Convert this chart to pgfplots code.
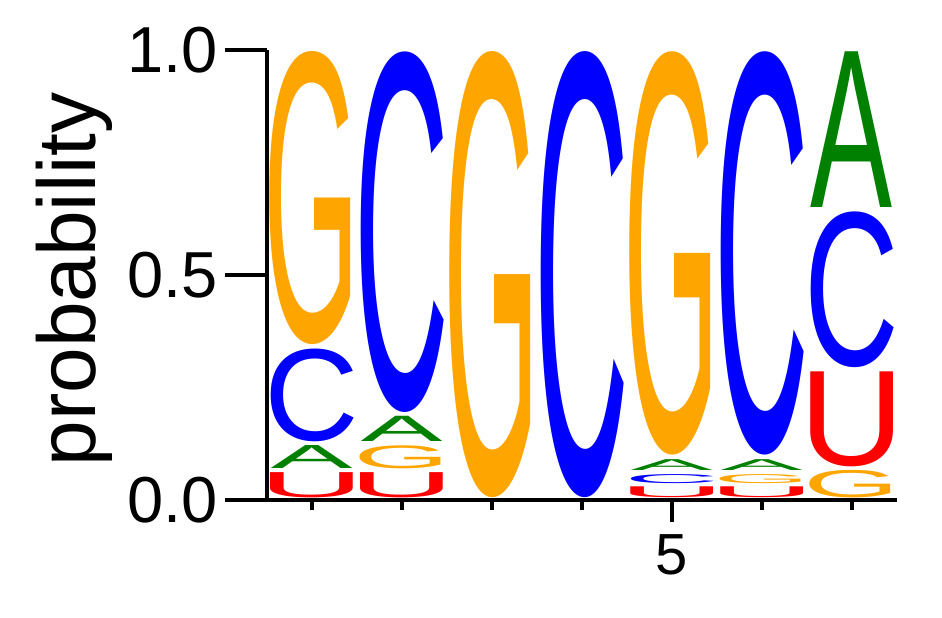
\documentclass[border=0pt]{standalone}
\usepackage{fontspec}
\setmainfont{Liberation Sans}
\usepackage{graphicx}
\usepackage{pgfplots}
\usepackage{pgfplotstable}
\pgfplotsset{compat=1.18}

\definecolor{lgreen}{RGB}{0,128,0}
\definecolor{lblue}{RGB}{0,0,255}
\definecolor{lorange}{RGB}{255,165,0}
\definecolor{lred}{RGB}{255,0,0}

\newlength\lhdim
\newcommand\logofont{\fontsize{40}{40}\selectfont}

% x = position, base = bottom of the letter's slot, h = probability
\pgfplotstableread{
x base h
1 0.065 0.060
2 0.125 0.065
5 0.062 0.033
6 0.062 0.033
7 0.645 0.355
}\dataA
\pgfplotstableread{
x base h
1 0.125 0.215
2 0.190 0.810
4 0.000 1.000
5 0.033 0.029
6 0.095 0.905
7 0.290 0.355
}\dataC
\pgfplotstableread{
x base h
1 0.340 0.660
2 0.065 0.060
3 0.000 1.000
5 0.095 0.905
6 0.033 0.029
7 0.000 0.070
}\dataG
\pgfplotstableread{
x base h
1 0.000 0.065
2 0.000 0.065
5 0.000 0.033
6 0.000 0.033
7 0.070 0.220
}\dataU

\pgfplotsset{
  logo/.style n args={3}{
    draw=none, mark=none,
    visualization depends on={\thisrow{h}\as\lh},
    nodes near coords={\pgfmathsetlength{\lhdim}{\lh*225pt-2pt}\color{#1}\resizebox*{#2}{\lhdim}{\logofont #3}},
    every node near coord/.append style={anchor=south, inner sep=0pt, outer sep=0pt, yshift=1pt},
  },
}

\begin{document}
\begin{tikzpicture}
\begin{axis}[
  scale only axis,
  width=315pt, height=225pt,
  xmin=0.5, xmax=7.5, ymin=0, ymax=1,
  clip=false,
  axis lines=left,
  axis line style={-, line width=2pt},
  tick align=outside,
  tick style={black, line width=2pt},
  major tick length=11pt, minor tick length=10.5pt,
  xtick={5}, xticklabels={5},
  extra x ticks={1,2,3,4,6,7}, extra x tick labels={},
  extra x tick style={major tick length=5pt},
  ytick=\empty,
  minor ytick={0.1,0.2,0.3,0.4,0.6,0.7,0.8,0.9},
  extra y ticks={0,0.5,1}, extra y tick labels={0.0,0.5,1.0},
  extra y tick style={major tick length=21pt},
  tick label style={font=\fontsize{32.5}{32.5}\selectfont},
  xticklabel style={font=\fontsize{29}{29}\selectfont, yshift=-3pt},
  ylabel={probability},
  every axis y label/.style={at={(axis description cs:-0.305,0.49)}, rotate=90, anchor=center, font=\fontsize{41}{41}\selectfont},
]
\addplot[logo={lgreen}{41pt}{A}] table[x=x, y=base] {\dataA};
\addplot[logo={lblue}{47.3pt}{C}] table[x=x, y=base] {\dataC};
\addplot[logo={lorange}{48.2pt}{G}] table[x=x, y=base] {\dataG};
\addplot[logo={lred}{52.6pt}{U}] table[x=x, y=base] {\dataU};
\end{axis}
\path ([xshift=-133.3pt, yshift=-58.5pt]current axis.south west) rectangle ([xshift=22.7pt, yshift=25pt]current axis.north east);
\end{tikzpicture}
\end{document}
